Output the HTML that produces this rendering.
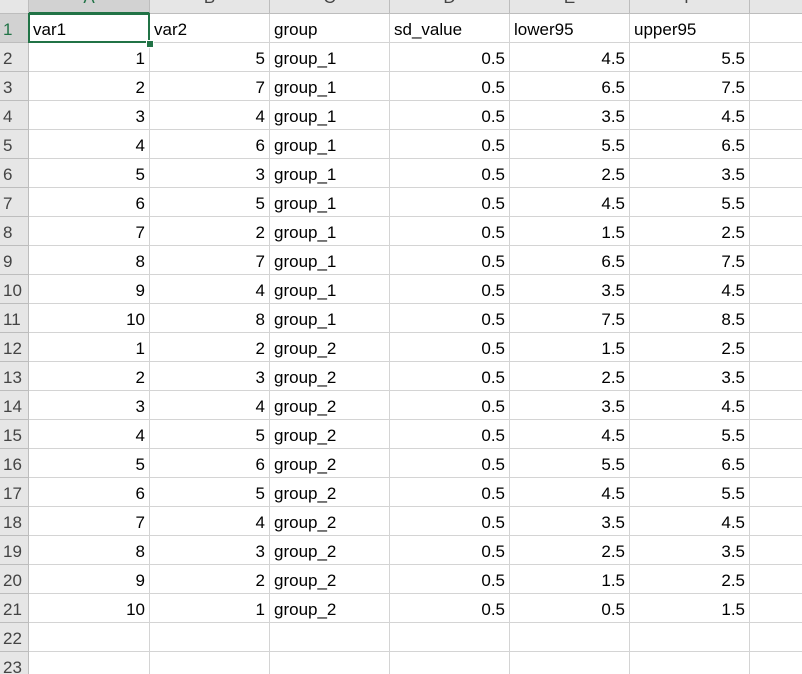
<!DOCTYPE html>
<html><head><meta charset="utf-8"><style>
html,body{margin:0;width:802px;height:674px;overflow:hidden;background:#fff;font-family:"Liberation Sans",sans-serif;}
#sheet{position:relative;width:802px;height:674px;overflow:hidden;}
.c{position:absolute;box-sizing:border-box;border-right:1px solid #d4d4d4;border-bottom:1px solid #d4d4d4;font-size:17px;line-height:32px;padding:0 4px;white-space:nowrap;overflow:hidden;color:#000;}
.r{text-align:right;}
.h{background:#e6e6e6;border-color:#bdbdbd;color:#444;text-align:center;}
.rh{background:#e6e6e6;border-color:#bdbdbd;color:#444;text-align:left;padding-left:3px;font-size:17px;}
</style></head><body>
<div id="sheet"></div>
<script>
const headers=["var1","var2","group","sd_value","lower95","upper95"];
const var1=[1,2,3,4,5,6,7,8,9,10,1,2,3,4,5,6,7,8,9,10];
const var2=[5,7,4,6,3,5,2,7,4,8,2,3,4,5,6,5,4,3,2,1];
const groups=["group_1","group_1","group_1","group_1","group_1","group_1","group_1","group_1","group_1","group_1","group_2","group_2","group_2","group_2","group_2","group_2","group_2","group_2","group_2","group_2"];
const sdv=[0.5,0.5,0.5,0.5,0.5,0.5,0.5,0.5,0.5,0.5,0.5,0.5,0.5,0.5,0.5,0.5,0.5,0.5,0.5,0.5];
const lower=[4.5,6.5,3.5,5.5,2.5,4.5,1.5,6.5,3.5,7.5,1.5,2.5,3.5,4.5,5.5,4.5,3.5,2.5,1.5,0.5];
const upper=[5.5,7.5,4.5,6.5,3.5,5.5,2.5,7.5,4.5,8.5,2.5,3.5,4.5,5.5,6.5,5.5,4.5,3.5,2.5,1.5];
const colX=[29,150,270,390,510,630,750,870];
const letters=["A","B","C","D","E","F","G"];
const S=document.getElementById('sheet');
function cell(x,y,w,h,txt,cls){const d=document.createElement('div');d.className='c '+cls;d.style.left=x+'px';d.style.top=y+'px';d.style.width=w+'px';d.style.height=h+'px';d.textContent=txt;S.appendChild(d);return d;}
let k=cell(0,-15,29,29,'','h');


for(let i=0;i<7;i++){
  const d=cell(colX[i],-15,colX[i+1]-colX[i],29,letters[i],'h');
  d.style.lineHeight='26px';
  if(i===0){d.style.background='#d2d2d2';d.style.color='#217346';d.style.borderBottom='2px solid #217346';}
  
  
}
const rows=[headers];
for(let i=0;i<20;i++)rows.push([var1[i],var2[i],groups[i],sdv[i],lower[i],upper[i]]);
for(let r=0;r<23;r++){
  const y=14+r*29;
  const rh=cell(0,y,29,29,String(r+1),'rh');
  if(r===0){rh.style.color='#217346';rh.style.background='#d2d2d2';}
  
  
  for(let c=0;c<7;c++){
    let v='';let cls='';
    if(r<rows.length&&c<6){v=rows[r][c];if(typeof v==='number'){cls='r';v=String(v);}}
    const d=cell(colX[c],y,colX[c+1]-colX[c],29,v,cls);
    
    
  }
}
const sel=document.createElement('div');
sel.style.cssText='position:absolute;left:28px;top:13px;width:122px;height:30px;border:2px solid #217346;box-sizing:border-box;';


S.appendChild(sel);
const fh=document.createElement('div');
fh.style.cssText='position:absolute;left:146px;top:40px;width:6px;height:6px;background:#217346;border:1px solid #fff;';


S.appendChild(fh);
</script>
</body></html>
